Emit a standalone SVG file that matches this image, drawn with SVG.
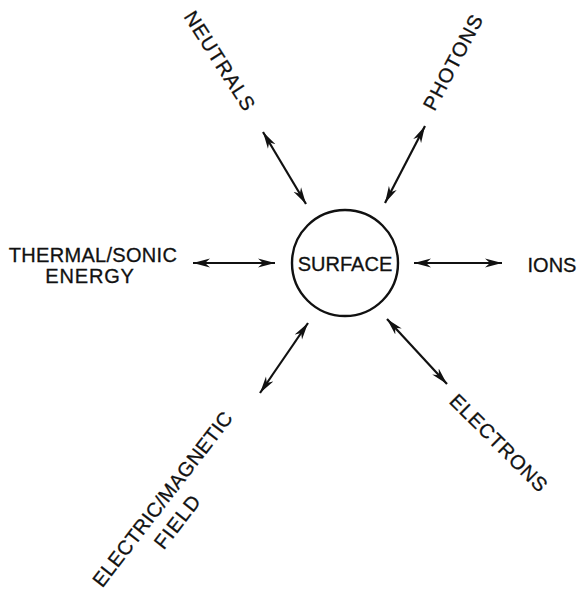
<svg xmlns="http://www.w3.org/2000/svg" width="580" height="600" viewBox="0 0 580 600">
<style>
  .lbl { font-family: "Liberation Sans", Arial, sans-serif; font-size: 20px; fill: #111; stroke: #111; stroke-width: 0.3; text-anchor: middle; }
  .conn { stroke: #111; stroke-width: 2.2; fill: none; marker-start: url(#ah); marker-end: url(#ah); }
</style>
<defs>
  <marker id="ah" markerUnits="userSpaceOnUse" markerWidth="18" markerHeight="10" refX="17" refY="5" orient="auto-start-reverse">
    <path d="M0,0.6 L17,5 L0,9.4 L5,5 z" fill="#111"/>
  </marker>
</defs>
<rect width="580" height="600" fill="#fff"/>

<g id="surface">
  <circle cx="345" cy="263" r="53" fill="none" stroke="#111" stroke-width="2.4"/>
  <text class="lbl" x="345" y="271">SURFACE</text>
</g>

<g id="neutrals">
  <text class="lbl" transform="translate(220 61) rotate(57.5)" x="0" y="7" letter-spacing="1">NEUTRALS</text>
</g>

<g id="photons">
  <text class="lbl" transform="translate(453 62) rotate(-62)" x="0" y="7" letter-spacing="1">PHOTONS</text>
</g>

<g id="thermal">
  <text class="lbl" x="93" y="262" letter-spacing="0.3">THERMAL/SONIC</text>
  <text class="lbl" x="90" y="283" letter-spacing="0.8">ENERGY</text>
</g>

<g id="ions">
  <text class="lbl" x="552" y="272">IONS</text>
</g>

<g id="electric">
  <text class="lbl" transform="translate(162.5 499) rotate(-52.3)" x="0" y="7" letter-spacing="0.3">ELECTRIC/MAGNETIC</text>
  <text class="lbl" transform="translate(177.5 521.5) rotate(-52.3)" x="0" y="7" letter-spacing="1.2">FIELD</text>
</g>

<g id="electrons">
  <text class="lbl" transform="translate(499 443) rotate(45)" x="0" y="7" letter-spacing="0.8">ELECTRONS</text>
</g>

<g id="connectors">
  <line class="conn" x1="263" y1="132" x2="306" y2="204"/>
  <line class="conn" x1="425" y1="126" x2="385" y2="203"/>
  <line class="conn" x1="193" y1="263" x2="275" y2="263"/>
  <line class="conn" x1="414" y1="263" x2="502" y2="263"/>
  <line class="conn" x1="308" y1="323" x2="260" y2="393"/>
  <line class="conn" x1="387" y1="319" x2="447" y2="384"/>
</g>
</svg>
